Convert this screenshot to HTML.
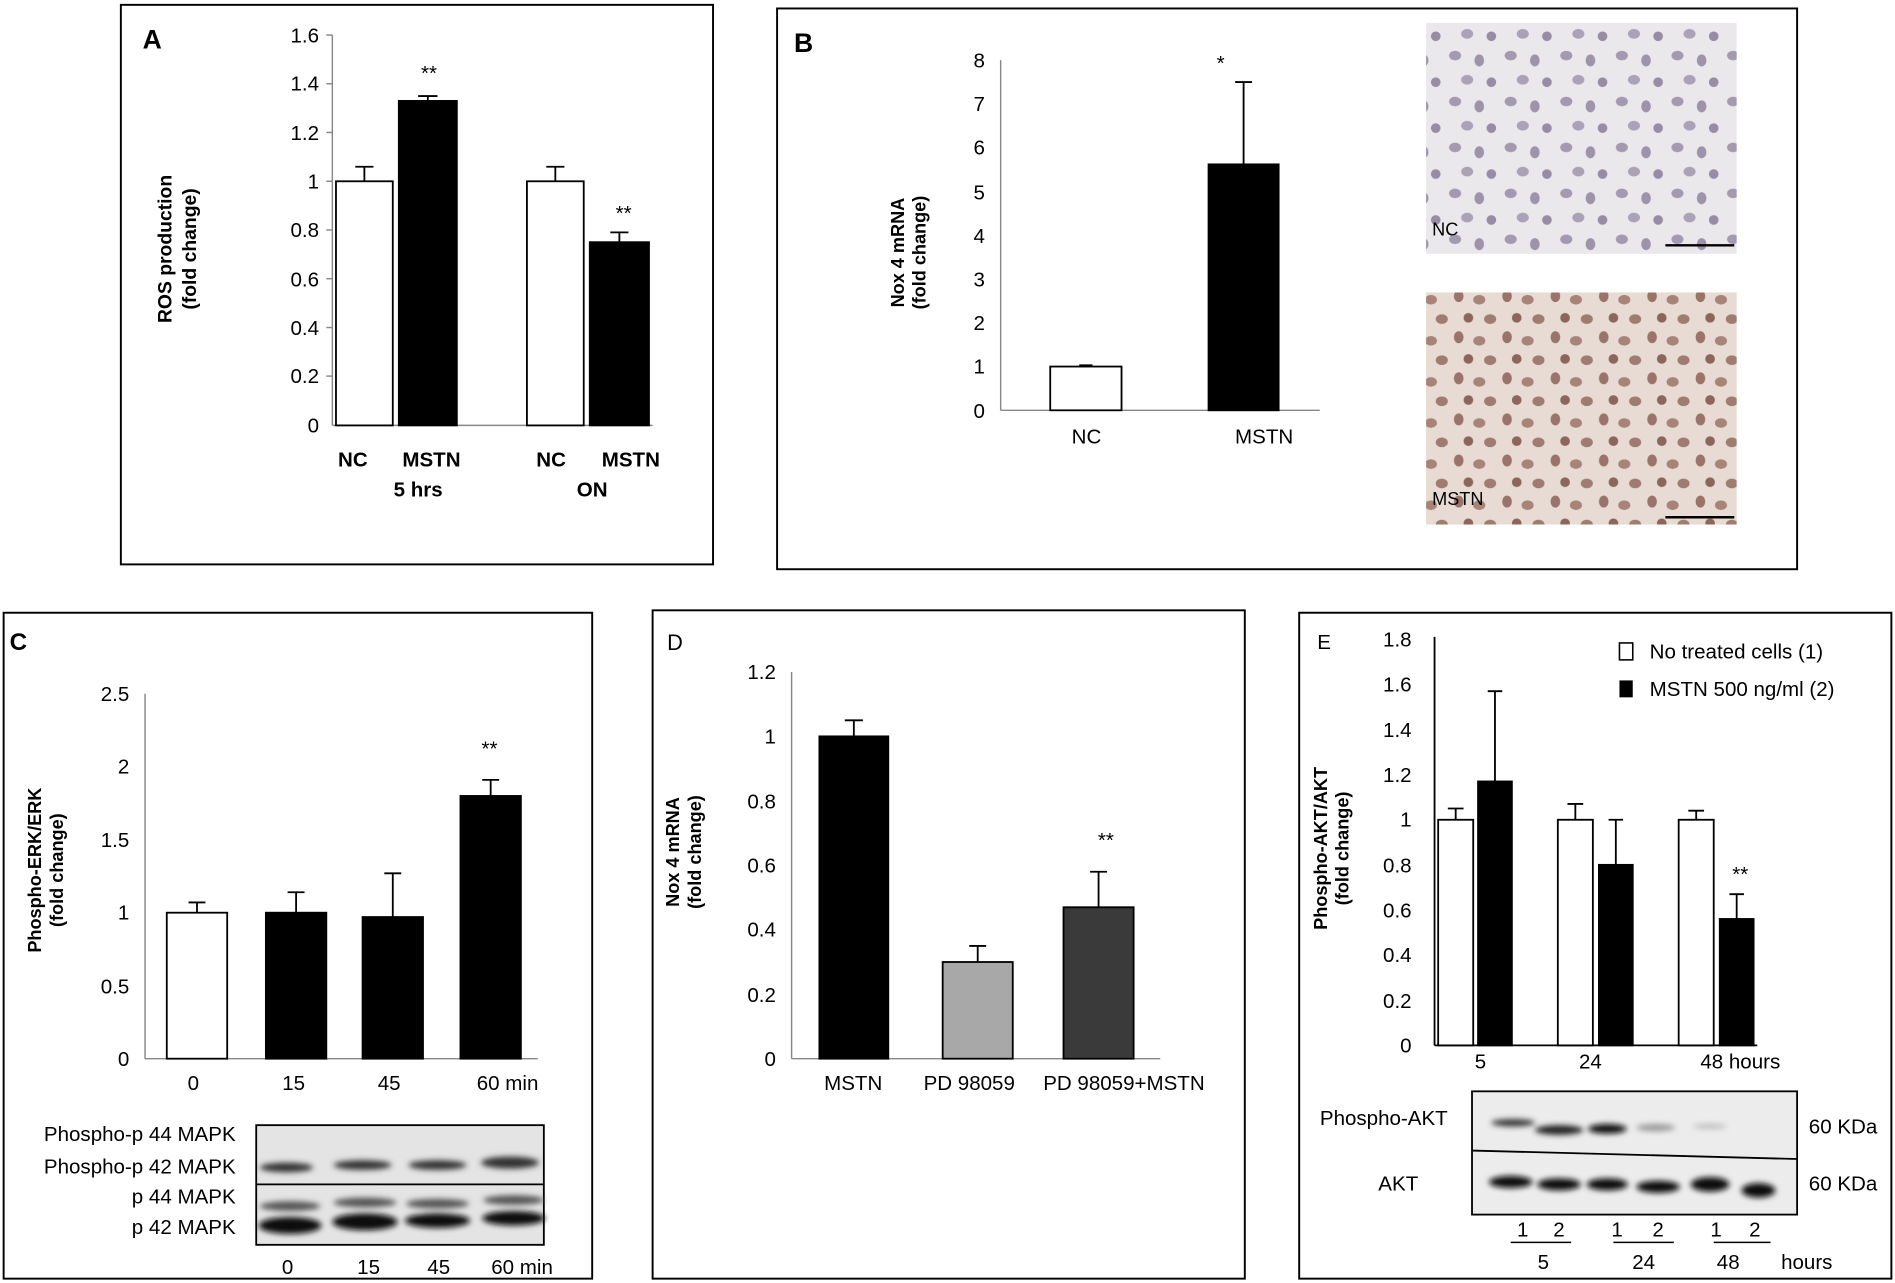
<!DOCTYPE html>
<html><head><meta charset="utf-8"><style>
html,body{margin:0;padding:0;background:#fff;}
svg{display:block;}
text{font-family:"Liberation Sans",sans-serif;fill:#000;}
.t{font-size:17px;}
.b{font-weight:bold;}
</style></head><body>
<svg width="1895" height="1283" viewBox="0 0 1568 1061.6" preserveAspectRatio="none" xmlns="http://www.w3.org/2000/svg">
<defs>
<pattern id="pnc" width="46" height="38" patternUnits="userSpaceOnUse">
<rect width="46" height="38" fill="#ebe8ec"/>
<ellipse cx="8" cy="8" rx="5" ry="4" fill="#a39ab0"/><ellipse cx="28" cy="12" rx="4" ry="5" fill="#9d93ab"/>
<ellipse cx="18" cy="28" rx="5" ry="4" fill="#aaa2b6"/><ellipse cx="38" cy="30" rx="4" ry="4" fill="#968ca6"/>
</pattern>
<pattern id="pms" width="40" height="34" patternUnits="userSpaceOnUse">
<rect width="40" height="34" fill="#e7dbd3"/>
<ellipse cx="7" cy="7" rx="4" ry="5" fill="#9a7468"/><ellipse cx="24" cy="10" rx="5" ry="4" fill="#a88478"/>
<ellipse cx="15" cy="25" rx="4" ry="4" fill="#8c665c"/><ellipse cx="33" cy="26" rx="5" ry="4" fill="#a07c70"/>
</pattern>
<filter id="bl"><feGaussianBlur stdDeviation="2.5"/></filter>
</defs>
<g stroke="#000" stroke-width="1.6" fill="none">
<rect x="100" y="4" width="490" height="463"/>
<rect x="643" y="7" width="844" height="464"/>
<rect x="3" y="507" width="487" height="551"/>
<rect x="540" y="505" width="490" height="553"/>
<rect x="1075" y="507" width="490" height="551"/>
</g>

<!-- Panel A -->
<text x="118" y="40" class="b" font-size="22">A</text>
<g stroke="#888" stroke-width="1.2"><line x1="275" y1="29" x2="275" y2="352"/><line x1="275" y1="352" x2="540" y2="352"/>
<line x1="270" y1="29" x2="275" y2="29"/><line x1="270" y1="69.3" x2="275" y2="69.3"/><line x1="270" y1="109.6" x2="275" y2="109.6"/><line x1="270" y1="150" x2="275" y2="150"/><line x1="270" y1="190.3" x2="275" y2="190.3"/><line x1="270" y1="230.6" x2="275" y2="230.6"/><line x1="270" y1="271" x2="275" y2="271"/><line x1="270" y1="311.2" x2="275" y2="311.2"/></g>
<g class="t" text-anchor="end"><text x="264" y="35">1.6</text><text x="264" y="75">1.4</text><text x="264" y="116">1.2</text><text x="264" y="156">1</text><text x="264" y="196">0.8</text><text x="264" y="237">0.6</text><text x="264" y="277">0.4</text><text x="264" y="317">0.2</text><text x="264" y="358">0</text></g>
<g stroke="#000" stroke-width="1.5"><rect x="278" y="150" width="47" height="202" fill="#fff"/><rect x="330" y="83.5" width="48" height="268.5" fill="#000"/><rect x="436" y="150" width="47" height="202" fill="#fff"/><rect x="488" y="200.4" width="49" height="151.6" fill="#000"/>
<path d="M301.5 150V138M294 138H309M354 83.5V79.5M346 79.5H362M459.5 150V138M452 138H467M512.5 200.4V192.3M505 192.3H520" fill="none"/></g>
<text x="355" y="66" class="t" text-anchor="middle">**</text><text x="516" y="182" class="t" text-anchor="middle">**</text>
<g class="t b" text-anchor="middle" font-size="16"><text x="292" y="386">NC</text><text x="357" y="386">MSTN</text><text x="456" y="386">NC</text><text x="522" y="386">MSTN</text><text x="346" y="411">5 hrs</text><text x="490" y="411">ON</text></g>
<g class="b" font-size="16" text-anchor="middle"><text transform="translate(142,206) rotate(-90)">ROS  production</text><text transform="translate(162,206) rotate(-90)">(fold change)</text></g>

<!-- Panel B -->
<text x="657" y="43" class="b" font-size="22">B</text>
<g stroke="#888" stroke-width="1.2"><line x1="828" y1="49.7" x2="828" y2="339.5"/><line x1="828" y1="339.5" x2="1092" y2="339.5"/></g>
<g class="t" text-anchor="end"><text x="815" y="56">8</text><text x="815" y="92">7</text><text x="815" y="128">6</text><text x="815" y="165">5</text><text x="815" y="201">4</text><text x="815" y="237">3</text><text x="815" y="273">2</text><text x="815" y="309">1</text><text x="815" y="346">0</text></g>
<g stroke="#000" stroke-width="1.5"><rect x="869" y="303.3" width="59" height="36.2" fill="#fff"/><rect x="1000" y="136" width="58" height="203.5" fill="#000"/>
<path d="M898.5 303.3V302.2M893 302.2H904M1029 136V67.9M1022 67.9H1036" fill="none"/></g>
<text x="1010" y="58" class="t" text-anchor="middle">*</text>
<g class="t" text-anchor="middle"><text x="899" y="367">NC</text><text x="1046" y="367">MSTN</text></g>
<g class="b" font-size="15" text-anchor="middle"><text transform="translate(748,209) rotate(-90)">Nox 4 mRNA</text><text transform="translate(766,209) rotate(-90)">(fold change)</text></g>
<rect x="1180" y="19" width="257" height="191" fill="url(#pnc)"/>
<rect x="1180" y="242" width="257" height="192" fill="url(#pms)"/>
<line x1="1378" y1="203" x2="1435" y2="203" stroke="#000" stroke-width="2"/>
<line x1="1378" y1="428" x2="1435" y2="428" stroke="#000" stroke-width="2"/>
<text x="1185" y="195" font-size="15">NC</text><text x="1185" y="418" font-size="15">MSTN</text>

<!-- Panel C -->
<text x="8" y="538" class="b" font-size="20">C</text>
<g stroke="#888" stroke-width="1.2"><line x1="120" y1="574" x2="120" y2="876"/><line x1="120" y1="876" x2="445" y2="876"/></g>
<g class="t" text-anchor="end"><text x="107" y="580">2.5</text><text x="107" y="640">2</text><text x="107" y="701">1.5</text><text x="107" y="761">1</text><text x="107" y="822">0.5</text><text x="107" y="882">0</text></g>
<g stroke="#000" stroke-width="1.5"><rect x="138" y="755.2" width="50" height="120.8" fill="#fff"/><rect x="220" y="755.2" width="50" height="120.8" fill="#000"/><rect x="300" y="758.8" width="50" height="117.2" fill="#000"/><rect x="381" y="658.6" width="50" height="217.4" fill="#000"/>
<path d="M163 755V746.7M156 746.7H170M245 755V738.3M238 738.3H252M325 758.8V722.6M318 722.6H332M406 658.6V645.3M399 645.3H413" fill="none"/></g>
<text x="405" y="625" class="t" text-anchor="middle">**</text>
<g class="t" text-anchor="middle"><text x="160" y="902">0</text><text x="243" y="902">15</text><text x="322" y="902">45</text><text x="420" y="902">60 min</text></g>
<g class="b" font-size="15" text-anchor="middle"><text transform="translate(34,720) rotate(-90)">Phospho-ERK/ERK</text><text transform="translate(52,720) rotate(-90)">(fold change)</text></g>
<rect x="212" y="931" width="238" height="99" fill="#e4e4e4" stroke="#000" stroke-width="1.5"/>
<line x1="212" y1="980" x2="450" y2="980" stroke="#000" stroke-width="1.5"/>
<g filter="url(#bl)" fill="#333"><ellipse cx="237" cy="966" rx="22" ry="4"/><ellipse cx="300" cy="964" rx="24" ry="4"/><ellipse cx="362" cy="964" rx="24" ry="4"/><ellipse cx="422" cy="962" rx="24" ry="5"/>
<ellipse cx="240" cy="998" rx="25" ry="4" fill="#555"/><ellipse cx="302" cy="995" rx="26" ry="4" fill="#555"/><ellipse cx="362" cy="996" rx="26" ry="4" fill="#555"/><ellipse cx="425" cy="993" rx="25" ry="4" fill="#555"/>
<ellipse cx="240" cy="1014" rx="26" ry="7" fill="#111"/><ellipse cx="302" cy="1011" rx="27" ry="7" fill="#111"/><ellipse cx="362" cy="1010" rx="27" ry="6" fill="#111"/><ellipse cx="425" cy="1008" rx="26" ry="6" fill="#111"/></g>
<g class="t" text-anchor="end" font-size="15"><text x="195" y="944">Phospho-p 44 MAPK</text><text x="195" y="971">Phospho-p 42 MAPK</text><text x="195" y="996">p 44 MAPK</text><text x="195" y="1021">p 42 MAPK</text></g>
<g class="t" text-anchor="middle" font-size="16"><text x="238" y="1054">0</text><text x="305" y="1054">15</text><text x="363" y="1054">45</text><text x="432" y="1054">60 min</text></g>

<!-- Panel D -->
<text x="552" y="538" font-size="18">D</text>
<g stroke="#888" stroke-width="1.2"><line x1="655" y1="556" x2="655" y2="876"/><line x1="655" y1="876" x2="960" y2="876"/></g>
<g class="t" text-anchor="end"><text x="642" y="562">1.2</text><text x="642" y="615">1</text><text x="642" y="669">0.8</text><text x="642" y="722">0.6</text><text x="642" y="775">0.4</text><text x="642" y="829">0.2</text><text x="642" y="882">0</text></g>
<g stroke="#000" stroke-width="1.5"><rect x="678" y="609.3" width="57" height="266.7" fill="#000"/><rect x="780" y="796" width="58" height="80" fill="#a8a8a8"/><rect x="880" y="750.7" width="58" height="125.3" fill="#3a3a3a"/>
<path d="M706.5 609.3V596M699 596H714M809 796V782.7M802 782.7H816M909 750.7V721.3M902 721.3H916" fill="none"/></g>
<text x="915" y="701" class="t" text-anchor="middle">**</text>
<g class="t" text-anchor="middle"><text x="706" y="902">MSTN</text><text x="802" y="902">PD 98059</text><text x="930" y="902">PD 98059+MSTN</text></g>
<g class="b" font-size="15" text-anchor="middle"><text transform="translate(562,705) rotate(-90)">Nox 4 mRNA</text><text transform="translate(580,705) rotate(-90)">(fold change)</text></g>

<!-- Panel E -->
<text x="1090" y="537" font-size="17">E</text>
<g stroke="#000" stroke-width="1.5"><line x1="1187" y1="527" x2="1187" y2="865"/><line x1="1187" y1="865" x2="1454" y2="865"/></g>
<g class="t" text-anchor="end"><text x="1168" y="535">1.8</text><text x="1168" y="572">1.6</text><text x="1168" y="610">1.4</text><text x="1168" y="647">1.2</text><text x="1168" y="684">1</text><text x="1168" y="722">0.8</text><text x="1168" y="759">0.6</text><text x="1168" y="796">0.4</text><text x="1168" y="834">0.2</text><text x="1168" y="871">0</text></g>
<g stroke="#000" stroke-width="1.5"><rect x="1190" y="678.3" width="29" height="186.7" fill="#fff"/><rect x="1223" y="646.6" width="28" height="218.4" fill="#000"/>
<rect x="1289" y="678.3" width="29" height="186.7" fill="#fff"/><rect x="1323" y="715.6" width="28" height="149.4" fill="#000"/>
<rect x="1389" y="678.3" width="29" height="186.7" fill="#fff"/><rect x="1423" y="760.4" width="28" height="104.6" fill="#000"/>
<path d="M1204.5 678V669M1198 669H1211M1237 646.6V571.9M1231 571.9H1243M1303.5 678V665.2M1297 665.2H1310M1337 715.6V678.3M1331 678.3H1343M1403.5 678V670.8M1397 670.8H1410M1437 760.4V739.9M1431 739.9H1443" fill="none"/></g>
<text x="1440" y="729" class="t" text-anchor="middle">**</text>
<rect x="1340" y="532" width="11" height="14" fill="#fff" stroke="#000" stroke-width="1.3"/>
<rect x="1340" y="563" width="11" height="14" fill="#000"/>
<g class="t" font-size="16"><text x="1365" y="545">No treated cells (1)</text><text x="1365" y="576">MSTN 500 ng/ml (2)</text></g>
<g class="t" text-anchor="middle"><text x="1225" y="884">5</text><text x="1316" y="884">24</text><text x="1440" y="884">48 hours</text></g>
<g class="b" font-size="15" text-anchor="middle"><text transform="translate(1098,702) rotate(-90)">Phospho-AKT/AKT</text><text transform="translate(1116,702) rotate(-90)">(fold change)</text></g>
<rect x="1218" y="903" width="269" height="102" fill="#ececec" stroke="#000" stroke-width="1.5"/>
<line x1="1218" y1="952" x2="1487" y2="959" stroke="#000" stroke-width="1.5"/>
<g filter="url(#bl)"><ellipse cx="1252" cy="929" rx="18" ry="3" fill="#333"/><ellipse cx="1290" cy="935" rx="20" ry="4" fill="#222"/><ellipse cx="1330" cy="934" rx="16" ry="4" fill="#111"/><ellipse cx="1370" cy="933" rx="16" ry="3" fill="#999"/><ellipse cx="1415" cy="932" rx="14" ry="2" fill="#bbb"/>
<ellipse cx="1250" cy="978" rx="18" ry="5" fill="#111"/><ellipse cx="1290" cy="980" rx="18" ry="5" fill="#111"/><ellipse cx="1330" cy="980" rx="17" ry="5" fill="#111"/><ellipse cx="1372" cy="982" rx="18" ry="5" fill="#111"/><ellipse cx="1415" cy="980" rx="16" ry="6" fill="#111"/><ellipse cx="1455" cy="985" rx="14" ry="6" fill="#111"/></g>
<g class="t" font-size="16" text-anchor="middle"><text x="1145" y="931">Phospho-AKT</text><text x="1157" y="985">AKT</text><text x="1525" y="938">60 KDa</text><text x="1525" y="985">60 KDa</text>
<text x="1260" y="1023">1</text><text x="1290" y="1023">2</text><text x="1338" y="1023">1</text><text x="1372" y="1023">2</text><text x="1420" y="1023">1</text><text x="1452" y="1023">2</text>
<text x="1277" y="1050">5</text><text x="1360" y="1050">24</text><text x="1430" y="1050">48</text><text x="1495" y="1050">hours</text></g>
<g stroke="#000" stroke-width="1.2"><line x1="1250" y1="1028" x2="1300" y2="1028"/><line x1="1335" y1="1028" x2="1385" y2="1028"/><line x1="1418" y1="1028" x2="1465" y2="1028"/></g>
</svg>
</body></html>
